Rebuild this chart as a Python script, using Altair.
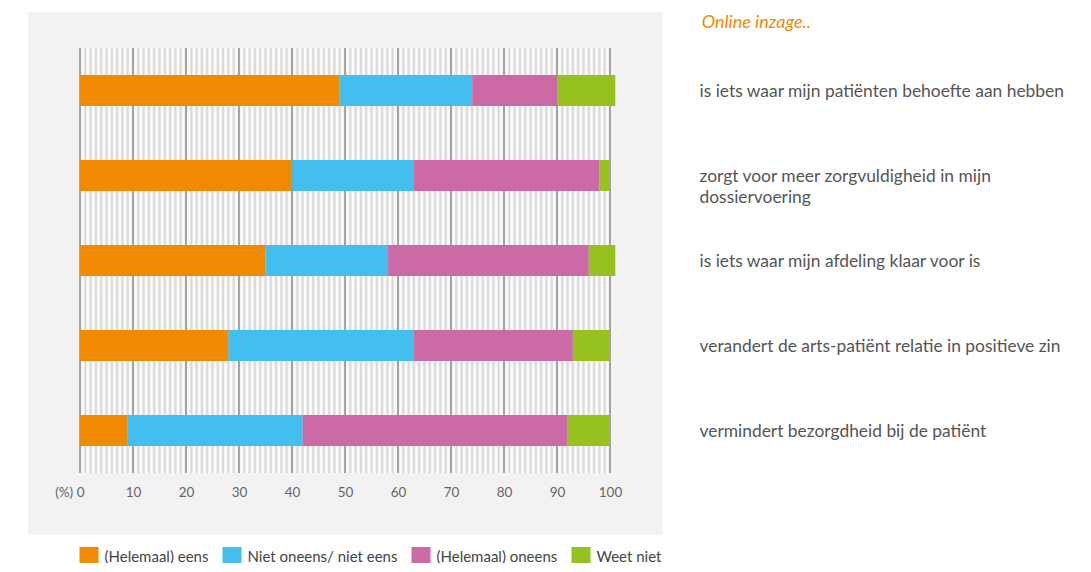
import altair as alt
import pandas as pd

categories = [
    "is iets waar mijn patiënten behoefte aan hebben",
    "zorgt voor meer zorgvuldigheid in mijn dossiervoering",
    "is iets waar mijn afdeling klaar voor is",
    "verandert de arts-patiënt relatie in positieve zin",
    "vermindert bezorgdheid bij de patiënt",
]
series = ["(Helemaal) eens", "Niet oneens/ niet eens", "(Helemaal) oneens", "Weet niet"]
colors = ["#F08A00", "#42BFEE", "#CC69A7", "#96C11F"]

eens = [49, 40, 35, 28, 9]
neutraal = [25, 23, 23, 35, 33]
oneens = [16, 35, 38, 30, 50]
weet_niet = [11, 2, 5, 7, 8]

x_ticks = [0, 10, 20, 30, 40, 50, 60, 70, 80, 90, 100]
minor_ticks = list(range(0, 101))
half_ticks = [i + 0.5 for i in range(0, 100)]

rows = []
for s_i, (name, vals) in enumerate(zip(series, [eens, neutraal, oneens, weet_niet])):
    for c, v in zip(categories, vals):
        rows.append({"cat": c, "serie": name, "order": s_i, "value": v})
df = pd.DataFrame(rows)

FONT = "Lato"
xscale = alt.Scale(domain=[0, 100], nice=False, zero=True)

xaxis = alt.Axis(
    values=x_ticks,
    title=None,
    grid=False,
    ticks=False,
    domain=False,
    labelFont=FONT,
    labelFontSize=13.5,
    labelColor="#666666",
    labelPadding=12,
    zindex=1,
    labelExpr="datum.value == 0 ? '(%) 0' : datum.label",
    labelAlign={"condition": {"test": "datum.value == 0", "value": "right"}, "value": "center"},
    labelOffset={"condition": {"test": "datum.value == 0", "value": 4}, "value": 0},
)

bg = alt.Chart(alt.Data(values=[{"a": 1}])).mark_rect(color="#f2f2f2").encode(
    x=alt.value(-52), x2=alt.value(582.7), y=alt.value(-36), y2=alt.value(486.7)
)

white = alt.Chart(pd.DataFrame({"value": half_ticks})).mark_rule(
    color="#fbfbfb", strokeWidth=2
).encode(x=alt.X("value:Q", scale=xscale, axis=xaxis))

minor = alt.Chart(pd.DataFrame({"value": minor_ticks})).mark_rule(
    color="#dadada", strokeWidth=2
).encode(x=alt.X("value:Q", scale=xscale, axis=xaxis))

major = alt.Chart(pd.DataFrame({"value": x_ticks})).mark_rule(
    color="#999999", strokeWidth=1.7
).encode(x=alt.X("value:Q", scale=xscale, axis=xaxis))

wrap_expr = (
    "datum.label == 'zorgt voor meer zorgvuldigheid in mijn dossiervoering' ? "
    "['zorgt voor meer zorgvuldigheid in mijn', 'dossiervoering'] : datum.label"
)

bars = alt.Chart(df).mark_bar().encode(
    x=alt.X("value:Q", stack="zero", scale=xscale, axis=xaxis),
    y=alt.Y(
        "cat:N",
        sort=categories,
        scale=alt.Scale(paddingInner=0.635, paddingOuter=0.3175),
        axis=alt.Axis(
            orient="right",
            title=None,
            grid=False,
            ticks=False,
            domain=False,
            labelFont=FONT,
            labelFontSize=17.4,
            labelColor="#555555",
            labelAlign="left",
            labelBaseline="top",
            labelOffset=-8,
            labelPadding=89,
            labelLimit=500,
            labelLineHeight=21,
            labelExpr=wrap_expr,
            zindex=1,
        ),
    ),
    color=alt.Color(
        "serie:N",
        sort=series,
        scale=alt.Scale(domain=series, range=colors),
        legend=alt.Legend(
            title=None,
            orient="none",
            legendX=-0.5,
            legendY=499,
            direction="horizontal",
            columns=4,
            symbolType="square",
            symbolSize=361,
            symbolStrokeWidth=0,
            symbolOpacity=1,
            labelFont=FONT,
            labelFontSize=15,
            labelColor="#444444",
            labelOffset=6,
            columnPadding=14,
        ),
    ),
    order=alt.Order("order:Q", sort="ascending"),
)

chart = alt.layer(bg, white, minor, major, bars).properties(
    width=530,
    height=425,
    padding={"left": 72, "top": 40, "right": 468, "bottom": 90},
    autosize=alt.AutoSizeParams(type="none"),
    title=alt.TitleParams(
        "Online inzage..",
        anchor="start",
        frame="group",
        orient="top",
        font=FONT,
        fontSize=18,
        fontStyle="italic",
        fontWeight="normal",
        color="#F08A00",
        offset=0,
        dx=621.7,
        dy=20,
    ),
).configure_view(stroke=None)

chart.save("out.html", embed_options={"renderer": "svg", "actions": False})
